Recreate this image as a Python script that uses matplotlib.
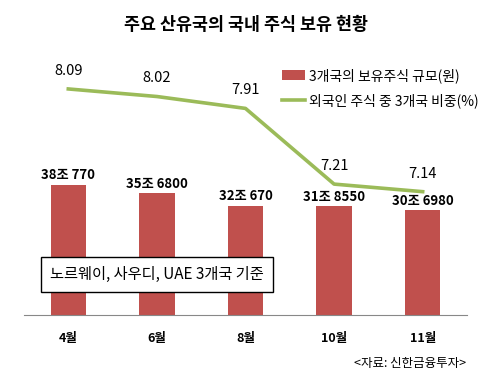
import matplotlib
matplotlib.use("Agg")
from matplotlib import pyplot as plt
import numpy as np

plt.rcParams['font.family'] = ['Noto Sans CJK KR', 'DejaVu Sans']

# data
months = ['4월', '6월', '8월', '10월', '11월']
holdings = [38.077, 35.68, 32.067, 31.855, 30.698]   # 조 원
holding_labels = ['38조 770', '35조 6800', '32조 670', '31조 8550', '30조 6980']
share = [8.09, 8.02, 7.91, 7.21, 7.14]   # %

bar_color = '#C0504D'
line_color = '#9BBB59'

fig = plt.figure(figsize=(4.93, 3.79), dpi=100)
ax = fig.add_axes([0.0487, 0.169, 0.8985, 0.719])
x = np.arange(len(months))

bars = ax.bar(x, holdings, width=0.4, color=bar_color, label='3개국의 보유주식 규모(원)', zorder=2)
ax.set_ylim(0, 80)
ax.set_xlim(-0.5, len(months) - 0.5)
for xi, v, lab in zip(x, holdings, holding_labels):
    ax.annotate(lab, (xi, v), xytext=(0, 2), textcoords='offset points',
                ha='center', va='bottom', fontsize=9.5, fontweight='bold')

ax2 = ax.twinx()
ln, = ax2.plot(x, share, color=line_color, lw=2.6, label='외국인 주식 중 3개국 비중(%)', zorder=3)
ax2.set_ylim(6, 8.52)
for xi, v in zip(x, share):
    ax2.annotate(f'{v:.2f}', (xi, v), xytext=(0, 8), textcoords='offset points',
                 ha='center', va='bottom', fontsize=10.5)

for a in (ax, ax2):
    for s in ('top', 'left', 'right'):
        a.spines[s].set_visible(False)
    a.set_yticks([])
ax2.spines['bottom'].set_visible(False)
ax.spines['bottom'].set_color('#888888')
ax.set_xticks(x)
ax.set_xticklabels(months, fontsize=9, fontweight='bold')
ax.tick_params(axis='x', length=0, pad=12)

fig.legend(handles=[bars, ln], loc='upper left', bbox_to_anchor=(0.56, 0.835),
           frameon=False, fontsize=10, handlelength=1.7, handletextpad=0.3,
           labelspacing=0.75, borderaxespad=0)

fig.text(0.5, 0.935, '주요 산유국의 국내 주식 보유 현황', ha='center', va='center',
         fontsize=12.5, fontweight='bold')

fig.text(0.101, 0.276, '노르웨이, 사우디, UAE 3개국 기준',
         fontsize=11, ha='left', va='center', zorder=5,
         bbox=dict(boxstyle='square,pad=0.6', facecolor='white', edgecolor='black', lw=1))

fig.text(0.945, 0.042, '<자료: 신한금융투자>', ha='right', va='center', fontsize=9)

fig.savefig('out.png', dpi=100)
